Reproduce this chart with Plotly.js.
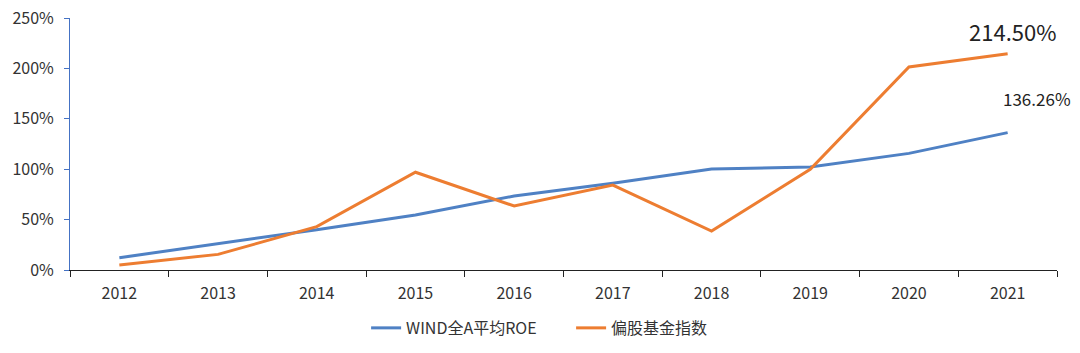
<!DOCTYPE html>
<html>
<head>
<meta charset="utf-8">
<script src="https://cdn.plot.ly/plotly-3.0.1.min.js"></script>
<style>html,body{margin:0;padding:0;background:#fff;}#chart{width:1080px;height:353px;}</style>
</head>
<body>
<div id="chart"></div>
<script>
const years = ['2012','2013','2014','2015','2016','2017','2018','2019','2020','2021'];
const windROE = [12.2, 25.8, 40.0, 54.5, 73.4, 86.0, 100.2, 102.2, 115.7, 136.26];
const fundIndex = [5.0, 15.5, 43.0, 97.0, 63.5, 84.3, 38.7, 99.9, 201.4, 214.5];
const seriesNames = ['WIND全A平均ROE', '偏股基金指数'];
const yTicks = [0, 50, 100, 150, 200, 250];

const font = 'Noto Sans CJK SC, Open Sans, sans-serif';
const traces = [
  {x: years, y: windROE, name: seriesNames[0], type: 'scatter', mode: 'lines',
   line: {color: '#4F81C4', width: 3}},
  {x: years, y: fundIndex, name: seriesNames[1], type: 'scatter', mode: 'lines',
   line: {color: '#ED7D31', width: 3}}
];
const last = years.length - 1;
const layout = {
  width: 1080, height: 353,
  margin: {l: 70, r: 23, t: 18, b: 83, autoexpand: false},
  paper_bgcolor: '#fff', plot_bgcolor: '#fff',
  font: {family: font, size: 16, color: '#333'},
  showlegend: true,
  legend: {orientation: 'h', x: 0.3, xanchor: 'left', y: -0.23, yanchor: 'middle',
           font: {size: 16, color: '#333'}, entrywidth: 160, entrywidthmode: 'pixels', tracegroupgap: 0},
  xaxis: {type: 'category', showgrid: false, zeroline: false, showline: true,
          linecolor: '#222', linewidth: 1, ticks: 'outside', tickson: 'boundaries',
          ticklen: 6, tickcolor: '#222', range: [-0.5, 9.5], fixedrange: true, ticklabelstandoff: 9},
  yaxis: {range: [0, 250], tickvals: yTicks, ticktext: yTicks.map(v => v + '%'),
          showgrid: false, zeroline: false, showline: true, linecolor: '#4472C4',
          linewidth: 1, ticks: 'outside', ticklen: 5, tickcolor: '#4472C4', ticklabelstandoff: 7},
  annotations: [
    {x: last, y: fundIndex[last], xref: 'x', yref: 'y', text: fundIndex[last].toFixed(2) + '%',
     showarrow: false, yshift: 23, xshift: 5, font: {size: 22, color: '#222'}},
    {x: last, y: windROE[last], xref: 'x', yref: 'y', text: windROE[last].toFixed(2) + '%',
     showarrow: false, yshift: 34, xshift: 29, font: {size: 17, color: '#222'}}
  ]
};
Plotly.newPlot('chart', traces, layout, {displayModeBar: false});
</script>
</body>
</html>
